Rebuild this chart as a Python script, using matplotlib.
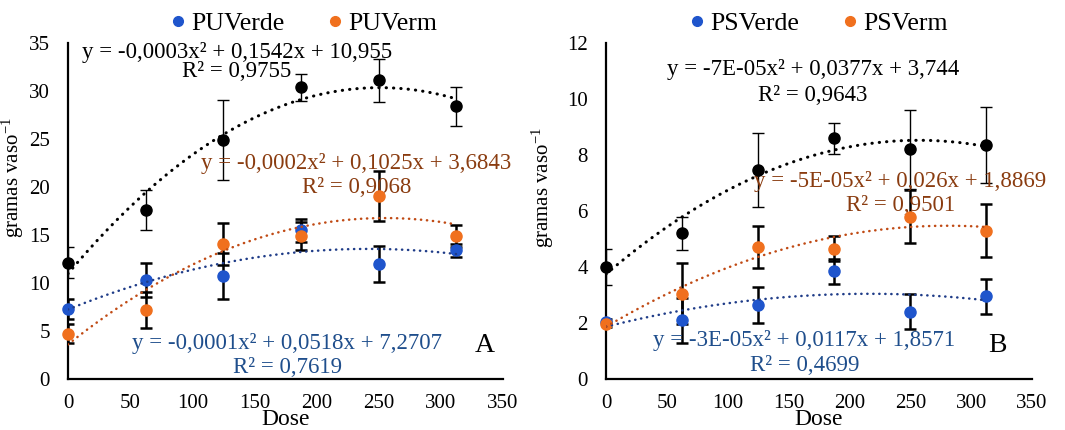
import numpy as np
import matplotlib.pyplot as plt
from matplotlib.lines import Line2D

plt.rcParams['font.family'] = ['Liberation Serif', 'DejaVu Serif']
plt.rcParams['mathtext.fontset'] = 'stix'

# doses (x) common to both panels
dose = [0, 62.5, 125, 187.5, 250, 312.5]

# panel A - PU
pu_total = [12.1, 17.6, 24.9, 30.4, 31.1, 28.4]
pu_total_err = [1.6, 2.1, 4.2, 1.4, 2.2, 2.0]
pu_verde = [7.3, 10.3, 10.7, 15.5, 12.0, 13.4]
pu_verde_err = [1.0, 1.8, 2.4, 1.2, 1.9, 0.7]
pu_verm = [4.7, 7.2, 14.1, 14.9, 19.1, 14.9]
pu_verm_err = [1.0, 1.9, 2.2, 1.5, 2.6, 1.1]

# panel B - PS
ps_total = [4.0, 5.2, 7.45, 8.6, 8.2, 8.35]
ps_total_err = [0.65, 0.6, 1.32, 0.55, 1.4, 1.35]
ps_verde = [2.05, 2.1, 2.65, 3.85, 2.4, 2.95]
ps_verde_err = [0.1, 0.8, 0.65, 0.45, 0.62, 0.62]
ps_verm = [1.95, 3.05, 4.7, 4.65, 5.8, 5.3]
ps_verm_err = [0.1, 1.1, 0.75, 0.45, 0.95, 0.95]

eq_a = ['y = -0,0003x² + 0,1542x + 10,955', 'y = -0,0002x² + 0,1025x + 3,6843',
        'y = -0,0001x² + 0,0518x + 7,2707']
r2_a = ['R² = 0,9755', 'R² = 0,9068', 'R² = 0,7619']
eq_b = ['y = -7E-05x² + 0,0377x + 3,744', 'y = -5E-05x² + 0,026x + 1,8869',
        'y = -3E-05x² + 0,0117x + 1,8571']
r2_b = ['R² = 0,9643', 'R² = 0,9501', 'R² = 0,4699']

blue = '#1f55cc'
orange = '#f0701e'
blue_tr = '#1f3c88'
orange_tr = '#c04a14'
blue_txt = '#1f4e8c'
orange_txt = '#8a3c10'

fig = plt.figure(figsize=(10.65, 4.3), dpi=100)
axA = fig.add_axes([0.0638, 0.1186, 0.4085, 0.7814])
axB = fig.add_axes([0.569, 0.1186, 0.4, 0.7814])


def trend(ax, y, c, lw):
    p = np.polyfit(dose, y, 2)
    xs = np.linspace(0, 312.5, 200)
    ax.plot(xs, np.polyval(p, xs), color=c, lw=lw, zorder=5,
            linestyle=(0, (0.1, 2.3)), dash_capstyle='round')


def series(ax, y, e, c, elw):
    ax.errorbar(dose, y, yerr=e, fmt='none', ecolor='black', elinewidth=elw,
                capsize=4.5, capthick=elw, zorder=3)
    ax.plot(dose, y, 'o', color=c, ms=8, mec=c, zorder=4, clip_on=False)


for ax, tot, tote, ver, vere, vm, vme, ymax, ystep in [
        (axA, pu_total, pu_total_err, pu_verde, pu_verde_err, pu_verm, pu_verm_err, 35, 5),
        (axB, ps_total, ps_total_err, ps_verde, ps_verde_err, ps_verm, ps_verm_err, 12, 2)]:
    series(ax, tot, tote, 'black', 1.0)
    series(ax, ver, vere, blue, 1.8)
    series(ax, vm, vme, orange, 1.8)
    trend(ax, tot, 'black', 2.2)
    trend(ax, ver, blue_tr, 1.8)
    trend(ax, vm, orange_tr, 1.8)
    ax.set_xlim(0, 350)
    ax.set_ylim(0, ymax)
    ax.set_xticks(range(0, 351, 50))
    ax.set_yticks(range(0, ymax + 1, ystep))
    ax.tick_params(length=0, labelsize=15)
    ax.tick_params(axis='x', pad=11)
    ax.tick_params(axis='y', pad=13)
    for s in ['top', 'right']:
        ax.spines[s].set_visible(False)
    for s in ['left', 'bottom']:
        ax.spines[s].set_linewidth(1.6)
    ax.set_xlabel('Dose', fontsize=17, labelpad=-3)
    ax.set_ylabel(r'gramas vaso$^{\mathdefault{-1}}$', fontsize=15)

axA.yaxis.set_label_coords(-0.097, 0.6)
axB.yaxis.set_label_coords(-0.117, 0.57)

# equations
fs = 16.5
axA.text(136, 34.06, eq_a[0], ha='center', va='center', fontsize=fs, color='black')
axA.text(136, 32.0, r2_a[0], ha='center', va='center', fontsize=fs, color='black')
axA.text(232, 22.5, eq_a[1], ha='center', va='center', fontsize=fs, color=orange_txt)
axA.text(232, 19.9, r2_a[1], ha='center', va='center', fontsize=fs, color=orange_txt)
axA.text(176.5, 3.75, eq_a[2], ha='center', va='center', fontsize=fs, color=blue_txt)
axA.text(177, 1.15, r2_a[2], ha='center', va='center', fontsize=fs, color=blue_txt)
axA.text(335.5, 3.5, 'A', ha='center', va='center', fontsize=20)

axB.text(170, 11.04, eq_b[0], ha='center', va='center', fontsize=fs, color='black')
axB.text(170, 10.14, r2_b[0], ha='center', va='center', fontsize=fs, color='black')
axB.text(242, 7.04, eq_b[1], ha='center', va='center', fontsize=fs, color=orange_txt)
axB.text(242, 6.21, r2_b[1], ha='center', va='center', fontsize=fs, color=orange_txt)
axB.text(163, 1.36, eq_b[2], ha='center', va='center', fontsize=fs, color=blue_txt)
axB.text(163.5, 0.5, r2_b[2], ha='center', va='center', fontsize=fs, color=blue_txt)
axB.text(322, 1.21, 'B', ha='center', va='center', fontsize=20)

for ax, names, cx in [(axA, ['PUVerde', 'PUVerm'], 0.536), (axB, ['PSVerde', 'PSVerm'], 0.493)]:
    handles = [Line2D([], [], marker='o', ls='', color=blue, ms=7),
               Line2D([], [], marker='o', ls='', color=orange, ms=7)]
    ax.legend(handles, names, loc='center', bbox_to_anchor=(cx, 1.057), ncol=2,
              frameon=False, fontsize=18.5, handletextpad=0.0, columnspacing=1.5,
              handlelength=1.0, borderaxespad=0)

plt.savefig('out.png', dpi=100)
